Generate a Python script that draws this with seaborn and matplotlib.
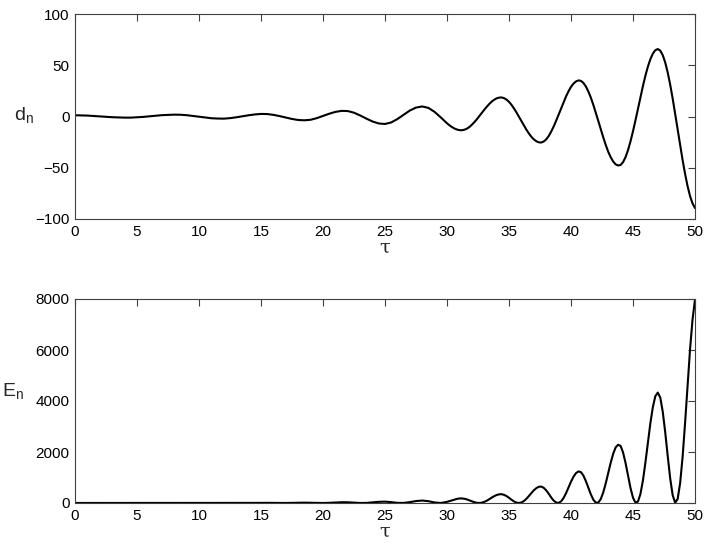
import matplotlib
matplotlib.use("Agg")
import numpy as np
import pandas as pd
import seaborn as sns
import matplotlib.pyplot as plt

# sample positions in tau (coarser where the signal is tiny)
tau_early = np.arange(0, 30, 0.5)
tau_late = np.arange(30, 50.0001, 0.2)
tau = np.round(np.concatenate([tau_early, tau_late]), 2)

# d_n
d_n = [
    1.2, 1.1, 0.9, 0.5, 0.1, -0.3, -0.7, -0.9, -1.1, -1.1,
    -0.8, -0.4, 0.2, 0.8, 1.3, 1.6, 1.8, 1.7, 1.3, 0.6,
    -0.2, -1, -1.7, -2, -2.1, -1.6, -0.8, 0.2, 1.2, 2,
    2.5, 2.4, 1.6, 0.4, -1, -2.4, -3.4, -3.7, -3.2, -1.6,
    0.5, 2.7, 4.5, 5.5, 5.3, 3.7, 1, -2.1, -4.9, -6.8,
    -7.3, -5.8, -2.5, 1.7, 5.8, 8.7, 9.8, 8.4, 4.5, -0.9,
    -6.6, -8.6, -10.3, -11.7, -12.7, -13.3, -13.4, -12.9, -11.9, -10.3,
    -8.1, -5.6, -2.8, 0.3, 3.4, 6.5, 9.4, 12.1, 14.5, 16.3,
    17.7, 18.4, 18.6, 17.9, 16.5, 14.3, 11.4, 7.9, 4, -0.2,
    -4.5, -8.7, -12.8, -16.5, -19.7, -22.3, -24.1, -25.2, -25.4, -24.4,
    -22.3, -19.1, -14.8, -9.8, -4.2, 1.8, 8, 14, 19.6, 24.6,
    28.9, 32.1, 34.2, 35.2, 34.8, 32.8, 29.3, 24.4, 18.4, 11.4,
    3.7, -4.3, -12.4, -20.3, -27.7, -34.3, -39.7, -43.9, -46.7, -47.8,
    -47.3, -44.5, -39.6, -32.7, -24.2, -14.4, -3.7, 7.5, 18.8, 29.7,
    39.8, 48.6, 55.9, 61.3, 64.7, 65.8, 64.3, 59.8, 52.6, 42.9,
    31, 17.5, 2.8, -12.5, -27.8, -42.5, -56, -67.9, -77.6, -84.8,
    -89.3,
]

# E_n
E_n = [
    1, 1, 1, 0, 0, 0, 0, 1, 1, 1, 1, 0, 0, 1, 2, 3, 3, 3, 2, 0,
    0, 1, 3, 4, 4, 3, 1, 0, 1, 4, 6, 6, 3, 0, 1, 6, 12, 14, 10, 3,
    0, 7, 20, 30, 28, 14, 1, 4, 24, 46, 53, 34, 6, 3, 34, 76, 96, 71, 20, 1,
    44, 74, 106, 137, 161, 177, 180, 166, 142, 106, 66, 31, 8, 0, 12, 42, 88, 146, 210, 266,
    313, 339, 346, 320, 272, 204, 130, 62, 16, 0, 20, 76, 164, 272, 388, 497, 581, 635, 645, 595,
    497, 365, 219, 96, 18, 3, 64, 196, 384, 605, 835, 1030, 1170, 1239, 1211, 1076, 858, 595, 339, 130,
    14, 18, 154, 412, 767, 1176, 1576, 1927, 2181, 2285, 2237, 1980, 1568, 1069, 586, 207, 14, 56, 353, 882,
    1584, 2362, 3125, 3758, 4186, 4330, 4134, 3576, 2767, 1840, 961, 306, 8, 156, 773, 1806, 3136, 4610, 6022, 7191,
    7974,
]

x_ticks = list(range(0, 51, 5))
d_ticks = list(range(-100, 101, 50))
E_ticks = list(range(0, 8001, 2000))

df = pd.DataFrame({"tau": tau, "d": d_n, "E": E_n})

sns.set_style("white")
plt.rcParams["font.family"] = ["Liberation Sans", "DejaVu Sans"]
plt.rcParams["mathtext.fontset"] = "custom"
plt.rcParams["mathtext.rm"] = "Liberation Sans"
plt.rcParams["mathtext.default"] = "rm"

fig = plt.figure(figsize=(7.1, 5.52), dpi=100)
ax1 = fig.add_axes([75 / 710, 1 - 219 / 552, 620 / 710, 205 / 552])
ax2 = fig.add_axes([75 / 710, 1 - 503 / 552, 620 / 710, 204 / 552])

sns.lineplot(data=df, x="tau", y="d", ax=ax1, color="black", lw=1.5)
sns.lineplot(data=df, x="tau", y="E", ax=ax2, color="black", lw=1.5)

for ax in (ax1, ax2):
    ax.set_xlim(0, 50)
    ax.set_xticks(x_ticks)
    ax.tick_params(direction="in", length=5, width=0.8, top=True, right=True,
                   labelsize=11, color="#404040", labelcolor="black", pad=4)
    for sp in ax.spines.values():
        sp.set_visible(True)
        sp.set_color("#404040")
        sp.set_linewidth(0.8)
    ax.set_xlabel("τ", fontsize=14, fontfamily="DejaVu Serif", labelpad=0)

ax1.set_ylim(-100, 100)
ax1.set_yticks(d_ticks)
ax2.set_ylim(0, 8000)
ax2.set_yticks(E_ticks)

ax1.set_ylabel("d$_n$", rotation=0, fontsize=14, ha="center", va="center")
ax1.yaxis.set_label_coords(-0.082, 0.507)
ax2.set_ylabel("E$_n$", rotation=0, fontsize=14, ha="center", va="center")
ax2.yaxis.set_label_coords(-0.1, 0.55)

fig.savefig("out.png", dpi=100)
